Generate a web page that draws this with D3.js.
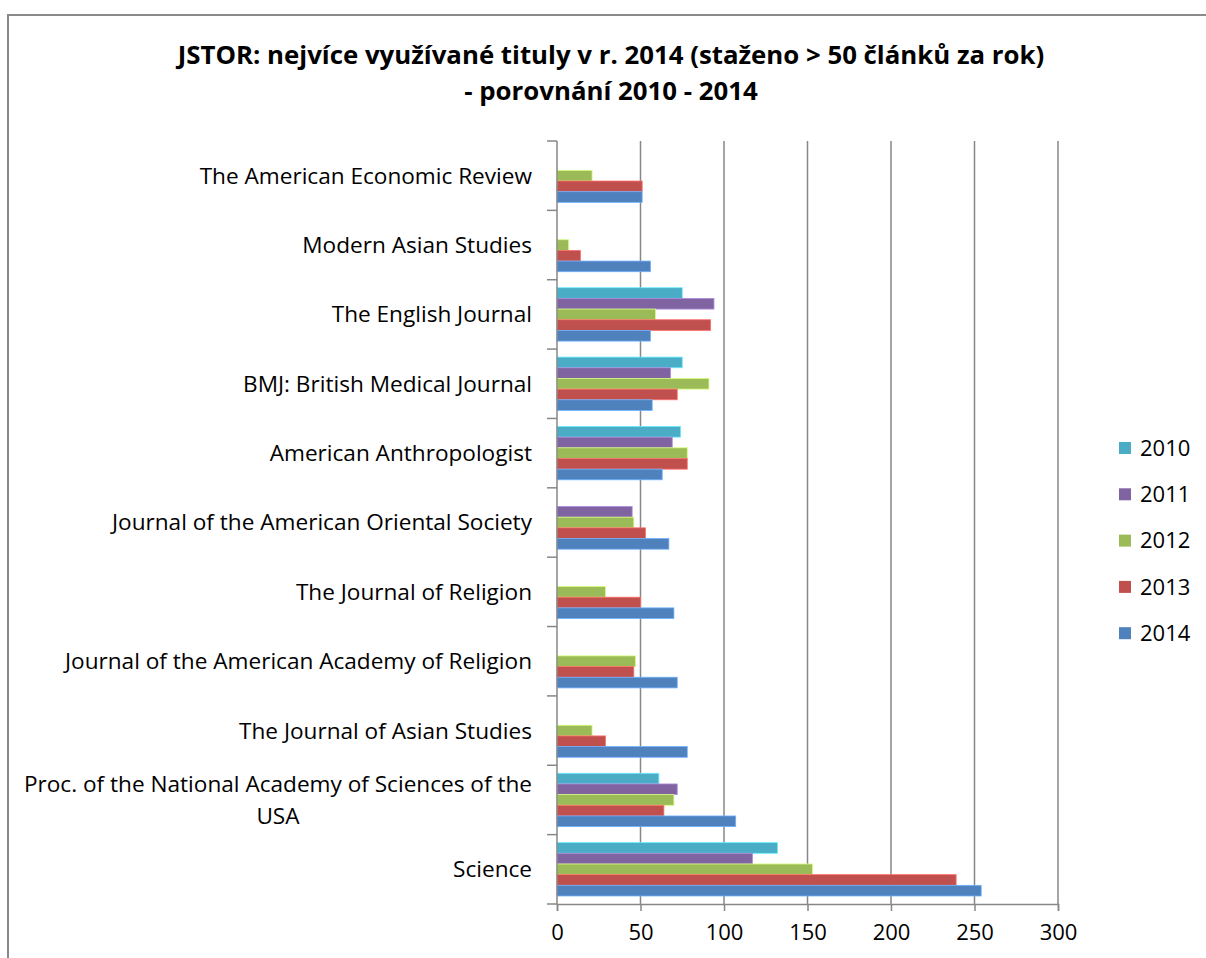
<!DOCTYPE html>
<html>
<head>
<meta charset="utf-8">
<script src="https://cdn.jsdelivr.net/npm/d3@7/dist/d3.min.js"></script>
<style>
  html, body { margin: 0; padding: 0; background: #fff; }
  svg { display: block; }
  text { font-family: "Open Sans", "Noto Sans", sans-serif; fill: #000; }
</style>
</head>
<body>
<svg id="chart" width="1206" height="958"></svg>
<script>
// ---- data ----
const titleLines = ["JSTOR: nejvíce využívané tituly v r. 2014 (staženo > 50 článků  za rok)", "- porovnání  2010 - 2014"];
const categories = [
  "The American Economic Review",
  "Modern Asian Studies",
  "The English Journal",
  "BMJ: British Medical Journal",
  "American Anthropologist",
  "Journal of the American Oriental Society",
  "The Journal of Religion",
  "Journal of the American Academy of Religion",
  "The Journal of Asian Studies",
  "Proc. of the National Academy of Sciences of the USA",
  "Science"
];
const seriesNames = ["2010", "2011", "2012", "2013", "2014"];
const values2010 = [null, null, 75, 75, 74, null, null, null, null, 61, 132];
const values2011 = [null, null, 94, 68, 69, 45, null, null, null, 72, 117];
const values2012 = [21, 7, 59, 91, 78, 46, 29, 47, 21, 70, 153];
const values2013 = [51, 14, 92, 72, 78, 53, 50, 46, 29, 64, 239];
const values2014 = [51, 56, 56, 57, 63, 67, 70, 72, 78, 107, 254];
const xTicks = [0, 50, 100, 150, 200, 250, 300];
const seriesColors = ["#4BACC6", "#8064A2", "#9BBB59", "#C0504D", "#4F81BD"];

const seriesValues = [values2010, values2011, values2012, values2013, values2014];

// ---- layout ----
const svg = d3.select("#chart");
const plot = { left: 557, right: 1058, top: 141, bottom: 904 };
const labelFont = 22.6;
const tickFont = 22;
const gridColor = "#878787";

// frame
svg.append("rect")
  .attr("x", 8).attr("y", 15)
  .attr("width", 1210).attr("height", 960)
  .attr("fill", "#fff")
  .attr("stroke", "#898989").attr("stroke-width", 2);

// title
const title = svg.append("text")
  .attr("x", 611).attr("y", 64)
  .attr("text-anchor", "middle")
  .style("font-weight", "bold")
  .style("font-size", "25.8px");
title.selectAll("tspan").data(titleLines).join("tspan")
  .attr("x", 611)
  .attr("dy", (d, i) => i === 0 ? 0 : 36)
  .text(d => d);

// scales
const x = d3.scaleLinear().domain([0, 300]).range([plot.left, plot.right]);
const y = d3.scaleBand().domain(categories).range([plot.top, plot.bottom]).padding(0);
const bw = y.bandwidth();
const barH = bw / 6.5;
const inner = d3.scaleBand().domain(seriesNames)
  .range([0.75 * barH, 0.75 * barH + 5 * barH]).padding(0);

// gridlines
svg.append("g").selectAll("line").data(xTicks.slice(1)).join("line")
  .attr("x1", d => x(d)).attr("x2", d => x(d))
  .attr("y1", plot.top).attr("y2", plot.bottom)
  .attr("stroke", gridColor).attr("stroke-width", 1.5);

// bars
const barData = [];
categories.forEach((c, ci) => {
  seriesNames.forEach((s, si) => {
    const v = seriesValues[si][ci];
    if (v != null) barData.push({ cat: c, series: s, value: v, color: seriesColors[si] });
  });
});
svg.append("g").selectAll("rect").data(barData).join("rect")
  .attr("x", x(0))
  .attr("y", d => y(d.cat) + inner(d.series))
  .attr("width", d => x(d.value) - x(0))
  .attr("height", inner.bandwidth())
  .attr("fill", d => d.color)
  .attr("stroke", d => d3.color(d.color).brighter(0.9))
  .attr("stroke-width", 0.8);

// x axis
const xAxis = d3.axisBottom(x).tickValues(xTicks).tickSize(7).tickPadding(8);
const gx = svg.append("g").attr("transform", `translate(0,${plot.bottom})`).call(xAxis);
gx.select(".domain").attr("stroke", gridColor).attr("stroke-width", 1.5);
gx.selectAll(".tick line").attr("stroke", gridColor).attr("stroke-width", 1.5);
gx.selectAll(".tick text")
  .attr("font-family", null)
  .style("font-size", tickFont + "px")
  .attr("dy", "0.95em")
  .attr("fill", "#000");

// y axis (line + ticks at band boundaries)
const gy = svg.append("g");
gy.append("line")
  .attr("x1", plot.left).attr("x2", plot.left)
  .attr("y1", plot.top).attr("y2", plot.bottom)
  .attr("stroke", gridColor).attr("stroke-width", 1.5);
const bounds = categories.map(c => y(c)).concat([plot.bottom]);
gy.selectAll("line.tk").data(bounds).join("line").attr("class", "tk")
  .attr("x1", plot.left - 10).attr("x2", plot.left)
  .attr("y1", d => d).attr("y2", d => d)
  .attr("stroke", gridColor).attr("stroke-width", 1.5);

// category labels with wrapping (centered lines, right aligned block)
const labelRight = 532;
const maxLabelWidth = 520;
const lineH = 32;
const labels = svg.append("g");
categories.forEach(c => {
  const cy = y(c) + bw / 2;
  const t = labels.append("text").style("font-size", labelFont + "px").attr("text-anchor", "middle");
  const words = c.split(" ");
  const lines = [];
  let cur = "";
  const probe = svg.append("text").style("font-size", labelFont + "px");
  const measure = s => { probe.text(s); return probe.node().getComputedTextLength(); };
  words.forEach(w => {
    const test = cur ? cur + " " + w : w;
    if (measure(test) > maxLabelWidth && cur) { lines.push(cur); cur = w; }
    else cur = test;
  });
  lines.push(cur);
  const blockW = d3.max(lines, l => measure(l));
  probe.remove();
  const cx = labelRight - blockW / 2;
  const startY = cy - (lines.length - 1) * lineH / 2;
  lines.forEach((l, i) => {
    t.append("tspan").attr("x", cx).attr("y", startY + i * lineH).attr("dy", "0.35em").text(l);
  });
});

// legend
const legend = svg.append("g");
seriesNames.forEach((s, i) => {
  const cy = 448 + i * 46.3;
  legend.append("rect")
    .attr("x", 1119).attr("y", cy - 6).attr("width", 12).attr("height", 12)
    .attr("fill", seriesColors[i]);
  legend.append("text")
    .attr("x", 1140).attr("y", cy).attr("dy", "0.35em")
    .style("font-size", tickFont + "px")
    .text(s);
});
</script>
</body>
</html>
